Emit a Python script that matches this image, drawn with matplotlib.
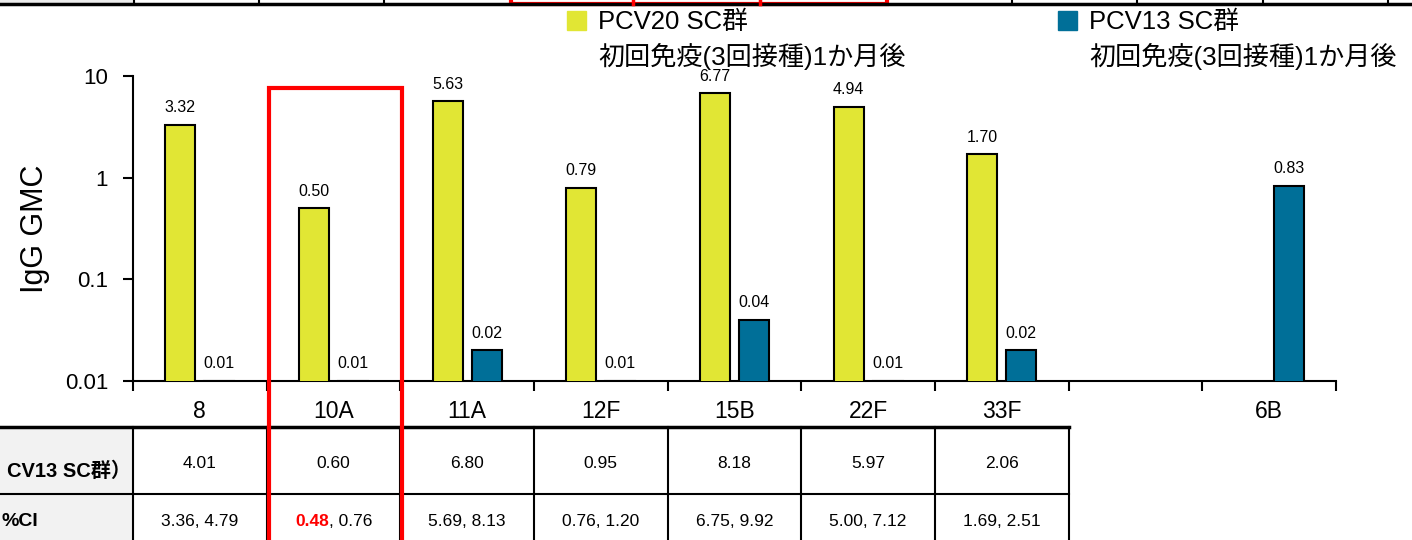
import numpy as np
import matplotlib.pyplot as plt
import matplotlib.transforms as mtransforms
from matplotlib.patches import Rectangle
from matplotlib.lines import Line2D

plt.rcParams['font.family'] = ['Liberation Sans', 'Noto Sans CJK JP']

# data
serotypes = ['8', '10A', '11A', '12F', '15B', '22F', '33F', '', '6B']
pcv20 = [3.32, 0.50, 5.63, 0.79, 6.77, 4.94, 1.70, None, None]
pcv13 = [0.01, 0.01, 0.02, 0.01, 0.04, 0.01, 0.02, None, 0.83]
ratio_cols = ['4.01', '0.60', '6.80', '0.95', '8.18', '5.97', '2.06']
ci_low = ['3.36', '0.48', '5.69', '0.76', '6.75', '5.00', '1.69']
ci_high = ['4.79', '0.76', '8.13', '1.20', '9.92', '7.12', '2.51']
legend_names = ['PCV20 SC群', 'PCV13 SC群']
legend_sub = '初回免疫(3回接種)1か月後'
row_headers = ['CV13 SC群）', '%CI']   # only the visible (cropped) part of the header column

yellow = '#e1e634'
blue = '#006f98'
W, H = 1412, 540

fig = plt.figure(figsize=(W / 100, H / 100), dpi=100)
ax = fig.add_axes([133 / W, 1 - 381 / H, (1336 - 133) / W, (381 - 76) / H])

x = np.arange(len(serotypes))
bw = 0.225
off = 0.146

xa = [i for i, v in enumerate(pcv20) if v is not None]
ya = [pcv20[i] for i in xa]
xb = [i for i, v in enumerate(pcv13) if v is not None]
yb = [pcv13[i] for i in xb]

ax.bar(np.array(xa) - off, ya, bw, color=yellow, edgecolor='black', lw=1.5, zorder=3)
ax.bar(np.array(xb) + off, yb, bw, color=blue, edgecolor='black', lw=1.5, zorder=3)

for xi, v in zip(xa, ya):
    ax.annotate('%.2f' % v, (xi - off, v), xytext=(0, 7), textcoords='offset points',
                ha='center', va='bottom', fontsize=11.5)
for xi, v in zip(xb, yb):
    ax.annotate('%.2f' % v, (xi + off, v), xytext=(0, 7), textcoords='offset points',
                ha='center', va='bottom', fontsize=11.5)

ax.set_yscale('log')
ax.set_ylim(0.01, 10)
ax.set_xlim(-0.5, len(serotypes) - 0.5)
ax.set_yticks([0.01, 0.1, 1, 10])
ax.set_yticklabels(['0.01', '0.1', '1', '10'], fontsize=16)
ax.yaxis.set_minor_locator(plt.NullLocator())
ax.tick_params(axis='y', direction='out', length=7, width=1.5, pad=11)

ax.set_xticks(x)
ax.set_xticklabels(serotypes, fontsize=16.5)
ax.set_xticks(np.arange(len(serotypes) + 1) - 0.5, minor=True)
ax.tick_params(axis='x', which='major', length=0, pad=14)
ax.tick_params(axis='x', which='minor', direction='out', length=7, width=1.5)

for s in ['top', 'right']:
    ax.spines[s].set_visible(False)
for s in ['left', 'bottom']:
    ax.spines[s].set_linewidth(1.5)

fig.text(35 / W, 1 - 229 / H, 'IgG GMC', rotation=90, fontsize=22, ha='center', va='center')

# legend
for lx, col, name in [(567, yellow, legend_names[0]), (1058, blue, legend_names[1])]:
    fig.patches.append(Rectangle((lx / W, 1 - 30 / H), 19 / W, 19 / H, color=col,
                                 transform=fig.transFigure))
    fig.text((lx + 31) / W, 1 - 22 / H, name, fontsize=18.5, ha='left', va='center')
    fig.text((lx + 31) / W, 1 - 56 / H, legend_sub, fontsize=18.8, ha='left', va='center')

# table below the chart (x in data units, y in figure units)
tr = mtransforms.blended_transform_factory(ax.transData, fig.transFigure)
yt = 1 - 427 / H
ym = 1 - 494 / H
fig.patches.append(Rectangle((-1.6, 0), 1.1, yt, transform=tr, color='#f2f2f2', zorder=0))
fig.lines.append(Line2D([-1.6, 6.5], [yt, yt], transform=tr, color='black', lw=2.5))
fig.lines.append(Line2D([-1.6, 6.5], [ym, ym], transform=tr, color='black', lw=1.5))
for b in np.arange(8) - 0.5:
    fig.lines.append(Line2D([b, b], [0, yt], transform=tr, color='black', lw=1.5))

fig.text(131 / W, 1 - 471 / H, row_headers[0], fontsize=14.5, fontweight='bold',
         ha='right', va='center')
fig.text(1 / W, 1 - 521 / H, row_headers[1], fontsize=14, fontweight='bold',
         ha='left', va='center')

for i in range(len(ratio_cols)):
    fig.text(i, 1 - 463 / H, ratio_cols[i], transform=tr, fontsize=12.5, ha='center', va='center')
    if i == 1:
        fig.text(i - 0.03, 1 - 521 / H, ci_low[i], transform=tr, fontsize=12.5, ha='right',
                 va='center', color='red', fontweight='bold')
        fig.text(i - 0.03, 1 - 521 / H, ', ' + ci_high[i], transform=tr, fontsize=12.5,
                 ha='left', va='center')
    else:
        fig.text(i, 1 - 521 / H, ci_low[i] + ', ' + ci_high[i], transform=tr, fontsize=12.5,
                 ha='center', va='center')

# red highlight box around 10A
fig.patches.append(Rectangle((0.515, -0.1), 1.0, 1.1 - 88 / H, transform=tr, fill=False,
                             edgecolor='red', lw=3, zorder=5))

# top strip of the table above
ytop = 1 - 4 / H
fig.patches.append(Rectangle((0, ytop), 134 / W, 4 / H, transform=fig.transFigure,
                             color='#ececec'))
fig.lines.append(Line2D([0, 1], [ytop, ytop], transform=fig.transFigure, color='black', lw=2.5))
for bx in [134, 259, 384, 1012, 1137, 1263, 1388]:
    fig.lines.append(Line2D([bx / W, bx / W], [ytop, 1], transform=fig.transFigure,
                            color='black', lw=1.5))
fig.patches.append(Rectangle((511 / W, 1 - 3.5 / H), 376 / W, 10 / H, transform=fig.transFigure,
                             fill=False, edgecolor='red', lw=3))
for bx in [633, 760]:
    fig.lines.append(Line2D([bx / W, bx / W], [1 - 3.5 / H, 1], transform=fig.transFigure,
                            color='red', lw=2.5))

fig.savefig('out.png', dpi=100)
